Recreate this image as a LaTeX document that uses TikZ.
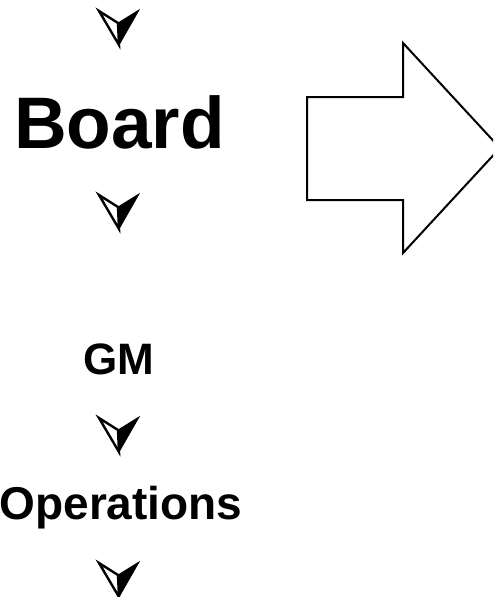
\documentclass[tikz,border=0pt]{standalone}
\usepackage{fontspec}
\setmainfont{Liberation Sans}
\begin{document}
\begin{tikzpicture}[x=1pt,y=-1pt,
  lbl/.style={font=\bfseries, inner sep=0pt, anchor=base},
  bigarrow/.style={draw=black, line width=2pt, fill=white, line join=miter},
  headout/.style={draw=black, line width=2.4pt, fill=white, line join=miter},
  headfill/.style={fill=black, draw=black, line width=0.8pt, line join=miter}]
\clip (0,0) rectangle (493,597);
\useasboundingbox (0,0) rectangle (493,597);
% text nodes
\node[lbl, font=\bfseries\fontsize{73}{78}\selectfont] (board) at (119.5,148) {Board};
\node[lbl, font=\bfseries\fontsize{44}{48}\selectfont] (gm) at (118.5,374) {GM};
\node[lbl, font=\bfseries\fontsize{46}{50}\selectfont] (ops) at (121,519) {Operations};
% arrowhead glyphs (bottom tip coordinates)
\foreach \n/\yb in {a1/45, a2/229, a3/452, a4/597}{
  \coordinate (\n) at (119,\yb);
  \draw[headout] ([shift={(-20,-34)}]\n) -- (\n) -- ([shift={(-1,-22)}]\n) -- cycle;
  \filldraw[headfill] ([shift={(-1,-22)}]\n) -- ([shift={(20,-35)}]\n) -- (\n) -- cycle;
}
% big block arrow
\draw[bigarrow] (307,97) -- (403,97) -- (403,43) -- (500,148) -- (403,253) -- (403,200) -- (307,200) -- cycle;
\end{tikzpicture}
\end{document}
